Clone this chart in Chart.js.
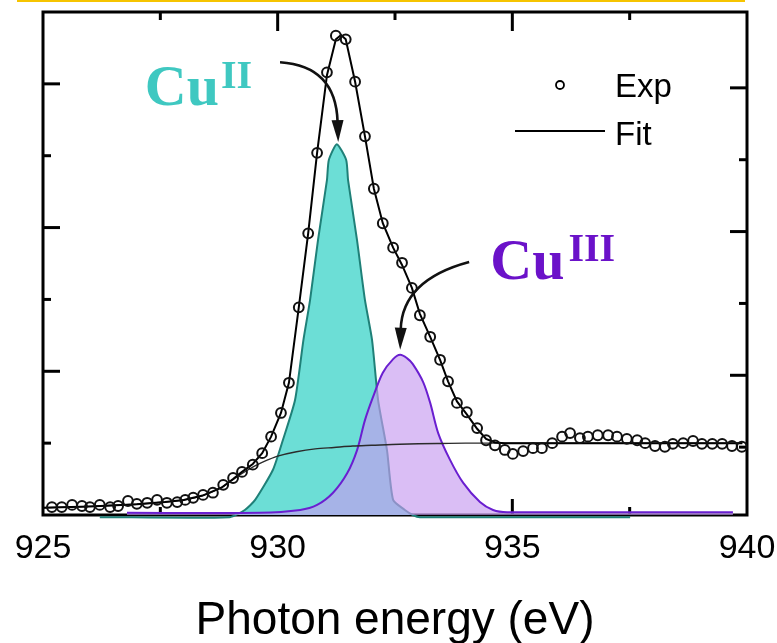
<!DOCTYPE html>
<html>
<head>
<meta charset="utf-8">
<script src="https://cdn.jsdelivr.net/npm/chart.js@4.4.1/dist/chart.umd.min.js"></script>
<style>
  html, body { margin: 0; padding: 0; background: #fff; }
  #wrap { position: relative; width: 777px; height: 643px; }
</style>
</head>
<body>
<div id="wrap"><canvas id="xasChart" width="777" height="643"></canvas></div>
<script>
// ---- data (photon energy in eV, intensity in arb. units) ----
const expEnergy = [925.19, 925.40, 925.62, 925.83, 926.00, 926.21, 926.43, 926.60, 926.81, 927.00,
    927.22, 927.43, 927.64, 927.86, 928.03, 928.20, 928.41, 928.62, 928.84, 929.05,
    929.24, 929.47, 929.67, 929.86, 930.07, 930.24, 930.45, 930.65, 930.84, 931.05,
    931.24, 931.45, 931.65, 931.86, 932.05, 932.24, 932.46, 932.65, 932.86, 933.03,
    933.25, 933.46, 933.63, 933.82, 934.03, 934.25, 934.44, 934.63, 934.84, 935.01,
    935.23, 935.44, 935.63, 935.85, 936.06, 936.23, 936.44, 936.61, 936.82, 937.04,
    937.23, 937.44, 937.66, 937.83, 938.04, 938.25, 938.42, 938.64, 938.85, 939.04,
    939.26, 939.47, 939.68, 939.89];
const expIntensity = [0.11, 0.11, 0.14, 0.125, 0.11, 0.14, 0.11, 0.125, 0.195, 0.155,
    0.17, 0.21, 0.17, 0.18, 0.21, 0.24, 0.28, 0.31, 0.42, 0.515,
    0.60, 0.70, 0.86, 1.09, 1.42, 1.84, 2.89, 3.92, 5.04, 6.16,
    6.67, 6.62, 6.03, 5.27, 4.54, 4.06, 3.72, 3.51, 3.16, 2.78,
    2.48, 2.16, 1.86, 1.56, 1.43, 1.21, 1.04, 0.97, 0.905, 0.85,
    0.89, 0.93, 0.93, 1.00, 1.09, 1.14, 1.07, 1.09, 1.11, 1.11,
    1.09, 1.06, 1.04, 1.00, 0.96, 0.95, 0.99, 1.00, 1.03, 0.99,
    0.99, 0.99, 0.96, 0.95];

const fitEnergy = [925.0, 926.0, 927.0, 927.6, 928.0, 928.4, 928.8, 929.05, 929.24, 929.47,
    929.67, 929.86, 930.07, 930.24, 930.45, 930.65, 930.84, 931.05, 931.24, 931.35,
    931.45, 931.65, 931.86, 932.05, 932.24, 932.46, 932.65, 932.86, 933.03, 933.25,
    933.46, 933.63, 933.82, 934.03, 934.25, 934.44, 934.63, 934.84, 935.2, 936.0,
    937.0, 938.0, 939.0, 939.9];
const fitIntensity = [0.10, 0.12, 0.15, 0.18, 0.21, 0.27, 0.38, 0.50, 0.60, 0.71,
    0.86, 1.09, 1.42, 1.84, 2.89, 3.92, 5.04, 6.12, 6.62, 6.68,
    6.62, 6.03, 5.27, 4.54, 4.06, 3.72, 3.48, 3.16, 2.80, 2.48,
    2.16, 1.86, 1.58, 1.40, 1.20, 1.06, 1.01, 1.0, 1.0, 1.0,
    1.0, 1.0, 1.0, 1.0];

const stepEnergy = [925.0, 926.0, 927.0, 927.6, 928.0, 928.4, 928.8, 929.0, 929.2, 929.4,
    929.6, 929.8, 930.0, 930.4, 930.8, 931.2, 931.6, 932.0, 932.6, 933.4, 934.0, 939.9];
const stepIntensity = [0.10, 0.12, 0.15, 0.18, 0.21, 0.27, 0.38, 0.47, 0.56, 0.64,
    0.71, 0.77, 0.82, 0.88, 0.92, 0.94, 0.96, 0.97, 0.985, 0.995, 1.0, 1.0];

// Cu(II) component
const cu2Energy = [926.21, 928.98, 929.30, 929.52, 929.90, 930.11, 930.37, 930.55, 930.69, 930.86,
    931.05, 931.09, 931.26, 931.46, 931.50, 931.69, 931.86, 932.01, 932.14, 932.33,
    932.46, 932.71, 932.88, 933.03, 937.51];
const cu2Intensity = [-0.03, -0.03, 0.07, 0.21, 0.63, 1.04, 1.60, 2.44, 2.99, 3.83,
    4.66, 4.94, 5.16, 4.94, 4.66, 3.83, 2.99, 2.44, 1.60, 0.90,
    0.21, 0.07, 0.0, -0.03, -0.03];

// Cu(III) component
const cu3Energy = [926.79, 929.62, 930.48, 930.84, 931.18, 931.48, 931.69, 931.86, 932.03, 932.24,
    932.46, 932.61, 932.76, 932.88, 933.10, 933.25, 933.42, 933.67, 933.95, 934.31,
    934.59, 934.89, 939.70];
const cu3Intensity = [0.03, 0.03, 0.07, 0.14, 0.31, 0.58, 0.90, 1.32, 1.64, 1.98,
    2.17, 2.23, 2.18, 2.10, 1.85, 1.56, 1.14, 0.77, 0.45, 0.18,
    0.07, 0.04, 0.04];

const xTickValues = [925, 930, 935, 940];
const xTickLabels = ['925', '930', '935', '940'];
const xMajorTicks = [930, 935];
const xMinorTicks = [927.5, 932.5, 937.5];
const yMajorTicks = [2, 4, 6];
const yMinorTicks = [1, 3, 5];

const pts = (xs, ys) => xs.map((x, i) => ({ x: x, y: ys[i] }));

const SANS = "'Liberation Sans', Arial, sans-serif";
const SERIF = "'Liberation Serif', 'Times New Roman', serif";
const TEAL_TEXT = '#3fc8c1';
const PURPLE_TEXT = '#6b12c9';

// frame with inward ticks, drawn under the data
const frameTicks = {
    id: 'frameTicks',
    beforeDatasetsDraw(chart) {
        const { ctx, chartArea: a, scales: { x, y } } = chart;
        ctx.save();
        // yellow strip at the very top of the figure
        ctx.fillStyle = '#f6c400';
        ctx.fillRect(17, 0, 728, 2);

        ctx.strokeStyle = '#000';
        ctx.lineWidth = 3;
        ctx.strokeRect(a.left, a.top, a.right - a.left, a.bottom - a.top);

        const seg = (x1, y1, x2, y2) => {
            ctx.beginPath();
            ctx.moveTo(x1, y1);
            ctx.lineTo(x2, y2);
            ctx.stroke();
        };
        xMajorTicks.forEach(v => {
            const px = x.getPixelForValue(v);
            seg(px, a.bottom, px, a.bottom - 16);
            seg(px, a.top, px, a.top + 19);
        });
        xMinorTicks.forEach(v => {
            const px = x.getPixelForValue(v);
            seg(px, a.bottom, px, a.bottom - 8);
            seg(px, a.top, px, a.top + 8);
        });
        yMajorTicks.forEach(v => {
            const py = y.getPixelForValue(v);
            seg(a.left, py, a.left + 17, py);
            seg(a.right, py + 4, a.right - 17, py + 4);
        });
        yMinorTicks.forEach(v => {
            const py = y.getPixelForValue(v);
            seg(a.left, py, a.left + 8, py);
            seg(a.right, py + 4, a.right - 8, py + 4);
        });
        ctx.restore();
    }
};

function drawArrow(ctx, p0, c, p1) {
    const dx = p1.x - c.x, dy = p1.y - c.y;
    const len = Math.hypot(dx, dy);
    const ux = dx / len, uy = dy / len;
    const headLen = 22, headHalf = 6;
    const bx = p1.x - ux * headLen, by = p1.y - uy * headLen;
    ctx.beginPath();
    ctx.moveTo(p0.x, p0.y);
    ctx.quadraticCurveTo(c.x, c.y, bx + ux * 2, by + uy * 2);
    ctx.stroke();
    ctx.beginPath();
    ctx.moveTo(p1.x, p1.y);
    ctx.lineTo(bx - uy * headHalf, by + ux * headHalf);
    ctx.lineTo(bx + uy * headHalf, by - ux * headHalf);
    ctx.closePath();
    ctx.fill();
}

// labels, arrows and legend on top
const annotations = {
    id: 'annotations',
    afterDatasetsDraw(chart) {
        const { ctx, scales: { x, y } } = chart;
        const P = (e, v) => ({ x: x.getPixelForValue(e), y: y.getPixelForValue(v) });
        ctx.save();

        // arrows
        ctx.strokeStyle = '#111';
        ctx.fillStyle = '#111';
        ctx.lineWidth = 2.6;
        drawArrow(ctx, P(930.05, 6.30), P(931.24, 6.25), P(931.29, 5.19));
        drawArrow(ctx, P(934.08, 3.52), P(932.65, 3.27), P(932.61, 2.30));

        // Cu^II
        ctx.textBaseline = 'alphabetic';
        ctx.textAlign = 'left';
        let p = P(927.17, 5.71);
        ctx.fillStyle = TEAL_TEXT;
        ctx.font = 'bold 58px ' + SERIF;
        ctx.fillText('Cu', p.x, p.y);
        let w = ctx.measureText('Cu').width;
        ctx.font = 'bold 40px ' + SERIF;
        ctx.fillText('II', p.x + w + 2, p.y - 17);

        // Cu^III
        p = P(934.53, 3.29);
        ctx.fillStyle = PURPLE_TEXT;
        ctx.font = 'bold 58px ' + SERIF;
        ctx.fillText('Cu', p.x, p.y);
        w = ctx.measureText('Cu').width;
        ctx.font = 'bold 40px ' + SERIF;
        ctx.fillText('III', p.x + w + 4, p.y - 18);

        // legend
        ctx.strokeStyle = '#000';
        ctx.fillStyle = '#000';
        ctx.lineWidth = 1.8;
        ctx.beginPath();
        ctx.arc(560, 85, 4, 0, Math.PI * 2);
        ctx.stroke();
        ctx.lineWidth = 2;
        ctx.beginPath();
        ctx.moveTo(515, 131);
        ctx.lineTo(605, 131);
        ctx.stroke();
        ctx.font = '33px ' + SANS;
        ctx.fillText('Exp', 615, 97);
        ctx.fillText('Fit', 615, 145);
        ctx.restore();
    }
};

new Chart(document.getElementById('xasChart'), {
    type: 'scatter',
    data: {
        datasets: [
            {
                label: 'Exp',
                data: pts(expEnergy, expIntensity),
                showLine: false,
                pointRadius: 4.9,
                pointBorderWidth: 2,
                pointBorderColor: '#111',
                pointBackgroundColor: 'rgba(0,0,0,0)',
                clip: 8
            },
            {
                label: 'Fit',
                data: pts(fitEnergy, fitIntensity),
                showLine: true,
                borderColor: '#000',
                borderWidth: 2,
                pointRadius: 0,
                tension: 0,
                fill: false,
                clip: 8
            },
            {
                label: 'Step',
                data: pts(stepEnergy, stepIntensity),
                showLine: true,
                borderColor: '#2b2b2b',
                borderWidth: 1.4,
                pointRadius: 0,
                tension: 0.3,
                fill: false,
                clip: 8
            },
            {
                label: 'CuIII',
                data: pts(cu3Energy, cu3Intensity),
                showLine: true,
                borderColor: '#6a1fd0',
                borderWidth: 2,
                backgroundColor: 'rgba(198,155,240,0.65)',
                pointRadius: 0,
                tension: 0.3,
                fill: 'origin',
                clip: 8
            },
            {
                label: 'CuII',
                data: pts(cu2Energy, cu2Intensity),
                showLine: true,
                borderColor: '#1f8078',
                borderWidth: 2,
                backgroundColor: 'rgb(108,222,214)',
                pointRadius: 0,
                tension: 0.2,
                fill: 'origin',
                clip: 8
            }
        ]
    },
    options: {
        responsive: false,
        animation: false,
        events: [],
        layout: {
            padding: { left: 43, right: 30, top: 12, bottom: 0 }
        },
        plugins: {
            legend: { display: false },
            tooltip: { enabled: false },
            filler: { drawTime: 'beforeDatasetDraw' }
        },
        scales: {
            x: {
                type: 'linear',
                min: 925,
                max: 940,
                afterBuildTicks: (scale) => {
                    scale.ticks = xTickValues.map(v => ({ value: v }));
                },
                afterFit: (scale) => {
                    // keep the plot box where the original figure has it
                    scale.height = 128;
                    scale.paddingLeft = 0;
                    scale.paddingRight = 0;
                },
                ticks: {
                    color: '#000',
                    padding: 13,
                    maxRotation: 0,
                    autoSkip: false,
                    font: { family: SANS, size: 34 },
                    callback: (value) => xTickLabels[xTickValues.indexOf(value)]
                },
                grid: { display: false, drawTicks: false },
                border: { display: false },
                title: {
                    display: true,
                    text: 'Photon energy (eV)',
                    color: '#000',
                    font: { family: SANS, size: 46 },
                    padding: { top: 20, bottom: -6 }
                }
            },
            y: {
                display: false,
                min: 0,
                max: 7
            }
        }
    },
    plugins: [frameTicks, annotations]
});
</script>
</body>
</html>
